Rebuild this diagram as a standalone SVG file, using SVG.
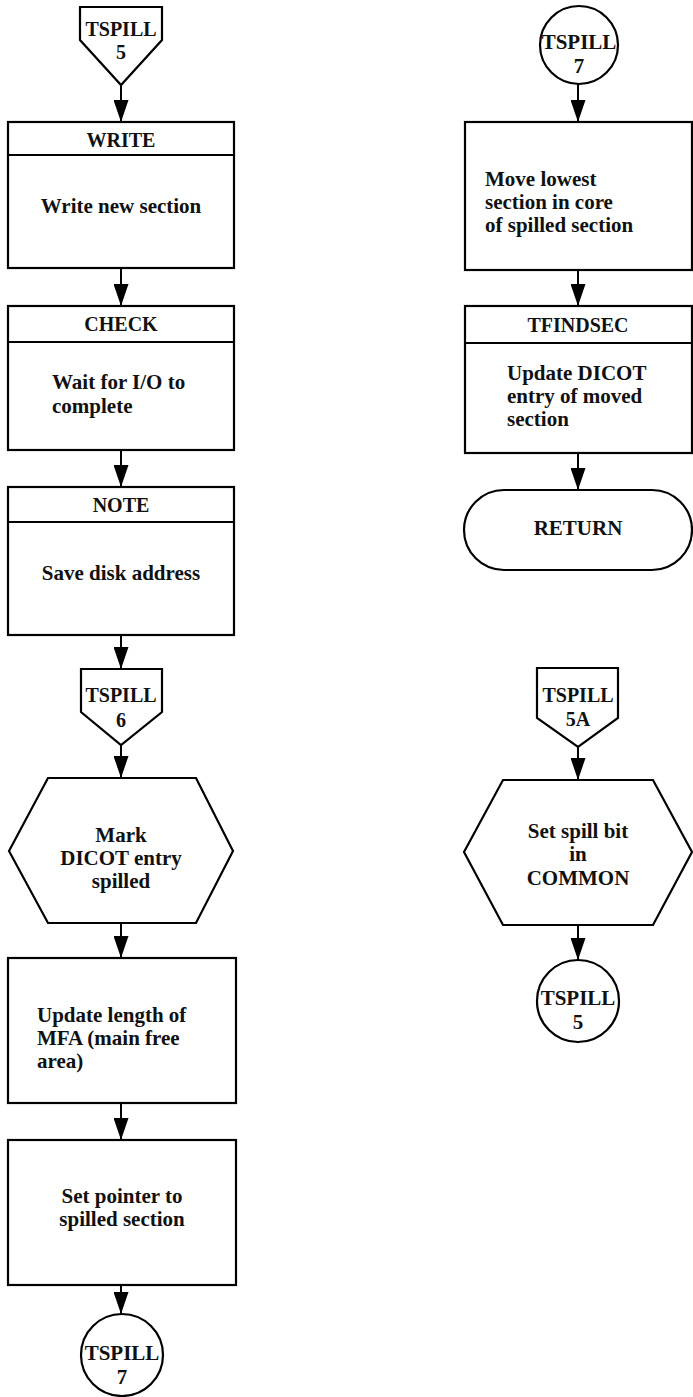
<svg xmlns="http://www.w3.org/2000/svg" width="693" height="1397" viewBox="0 0 693 1397">
<style>
.s{fill:#fff;stroke:#000;stroke-width:2.2;stroke-linejoin:miter}
.ln{fill:none;stroke:#000;stroke-width:2}
text{font-family:"Liberation Serif","Times New Roman",serif;font-weight:bold;font-size:21px;fill:#111}
.c{text-anchor:middle}
.lb{font-size:20px}
</style>
<defs>
<marker id="ah" markerUnits="userSpaceOnUse" markerWidth="22" markerHeight="15" refX="22" refY="7.5" orient="auto">
<path d="M0,0 L22,7.5 L0,15 z" fill="#000"/>
</marker>
</defs>
<rect width="693" height="1397" fill="#fff"/>
<g id="connectors">
<line class="ln" x1="121" y1="85" x2="121" y2="122" marker-end="url(#ah)"/>
<line class="ln" x1="121" y1="268" x2="121" y2="306" marker-end="url(#ah)"/>
<line class="ln" x1="121" y1="450" x2="121" y2="487" marker-end="url(#ah)"/>
<line class="ln" x1="121" y1="635" x2="121" y2="669" marker-end="url(#ah)"/>
<line class="ln" x1="121" y1="745" x2="121" y2="778" marker-end="url(#ah)"/>
<line class="ln" x1="121" y1="923" x2="121" y2="958" marker-end="url(#ah)"/>
<line class="ln" x1="121" y1="1103" x2="121" y2="1140" marker-end="url(#ah)"/>
<line class="ln" x1="121" y1="1285" x2="121" y2="1314" marker-end="url(#ah)"/>
<line class="ln" x1="578" y1="84" x2="578" y2="122" marker-end="url(#ah)"/>
<line class="ln" x1="578" y1="270" x2="578" y2="306" marker-end="url(#ah)"/>
<line class="ln" x1="578" y1="453" x2="578" y2="490" marker-end="url(#ah)"/>
<line class="ln" x1="578" y1="747" x2="578" y2="780" marker-end="url(#ah)"/>
<line class="ln" x1="578" y1="925" x2="578" y2="960" marker-end="url(#ah)"/>
</g>
<g id="tspill5-entry">
<path class="s" d="M80,7 L162,7 L162,40 L121,85 L80,40 Z"/>
<text class="c lb" x="121" y="36">TSPILL</text>
<text class="c lb" x="121" y="59">5</text>
</g>
<g id="write">
<rect class="s" x="8" y="122" width="226" height="146"/>
<line class="ln" x1="8" y1="155" x2="234" y2="155"/>
<text class="c lb" x="121" y="147">WRITE</text>
<text class="c" x="121" y="213">Write new section</text>
</g>
<g id="check">
<rect class="s" x="8" y="306" width="226" height="144"/>
<line class="ln" x1="8" y1="342" x2="234" y2="342"/>
<text class="c lb" x="121" y="331">CHECK</text>
<text x="52" y="389">Wait for I/O to</text>
<text x="52" y="413">complete</text>
</g>
<g id="note">
<rect class="s" x="8" y="487" width="226" height="148"/>
<line class="ln" x1="8" y1="522" x2="234" y2="522"/>
<text class="c lb" x="121" y="512">NOTE</text>
<text class="c" x="121" y="580">Save disk address</text>
</g>
<g id="tspill6">
<path class="s" d="M81,669 L162,669 L162,712 L121,745 L81,712 Z"/>
<text class="c lb" x="121" y="702">TSPILL</text>
<text class="c lb" x="121" y="727">6</text>
</g>
<g id="mark-dicot">
<path class="s" d="M48,778 L196,778 L233,851 L196,923 L48,923 L9,851 Z"/>
<text class="c" x="121" y="842">Mark</text>
<text class="c" x="121" y="865">DICOT entry</text>
<text class="c" x="121" y="888">spilled</text>
</g>
<g id="update-mfa">
<rect class="s" x="8" y="958" width="228" height="145"/>
<text x="37" y="1022">Update length of</text>
<text x="37" y="1045">MFA (main free</text>
<text x="37" y="1068">area)</text>
</g>
<g id="set-pointer">
<rect class="s" x="8" y="1140" width="228" height="145"/>
<text class="c" x="122" y="1203">Set pointer to</text>
<text class="c" x="122" y="1226">spilled section</text>
</g>
<g id="tspill7-exit">
<circle class="s" cx="122" cy="1355" r="41"/>
<text class="c" x="122" y="1360">TSPILL</text>
<text class="c" x="122" y="1384">7</text>
</g>
<g id="tspill7-entry">
<circle class="s" cx="579" cy="45" r="39"/>
<text class="c" x="579" y="49">TSPILL</text>
<text class="c" x="579" y="73">7</text>
</g>
<g id="move-lowest">
<rect class="s" x="465" y="122" width="227" height="148"/>
<text x="485" y="186">Move lowest</text>
<text x="485" y="209">section in core</text>
<text x="485" y="232">of spilled section</text>
</g>
<g id="tfindsec">
<rect class="s" x="465" y="306" width="227" height="147"/>
<line class="ln" x1="465" y1="343" x2="692" y2="343"/>
<text class="c lb" x="578" y="332">TFINDSEC</text>
<text x="507" y="380">Update DICOT</text>
<text x="507" y="403">entry of moved</text>
<text x="507" y="426">section</text>
</g>
<g id="return">
<rect class="s" x="464" y="490" width="228" height="80" rx="40" ry="40"/>
<text class="c" x="578" y="535">RETURN</text>
</g>
<g id="tspill5a">
<path class="s" d="M537,668 L618,668 L618,718 L578,747 L537,718 Z"/>
<text class="c lb" x="578" y="702">TSPILL</text>
<text class="c lb" x="578" y="726">5A</text>
</g>
<g id="set-spill-bit">
<path class="s" d="M503,780 L653,780 L692,852 L653,925 L503,925 L464,852 Z"/>
<text class="c" x="578" y="838">Set spill bit</text>
<text class="c" x="578" y="861">in</text>
<text class="c" x="578" y="885">COMMON</text>
</g>
<g id="tspill5-exit">
<circle class="s" cx="578" cy="1001" r="41"/>
<text class="c" x="578" y="1005">TSPILL</text>
<text class="c" x="578" y="1029">5</text>
</g>
</svg>
